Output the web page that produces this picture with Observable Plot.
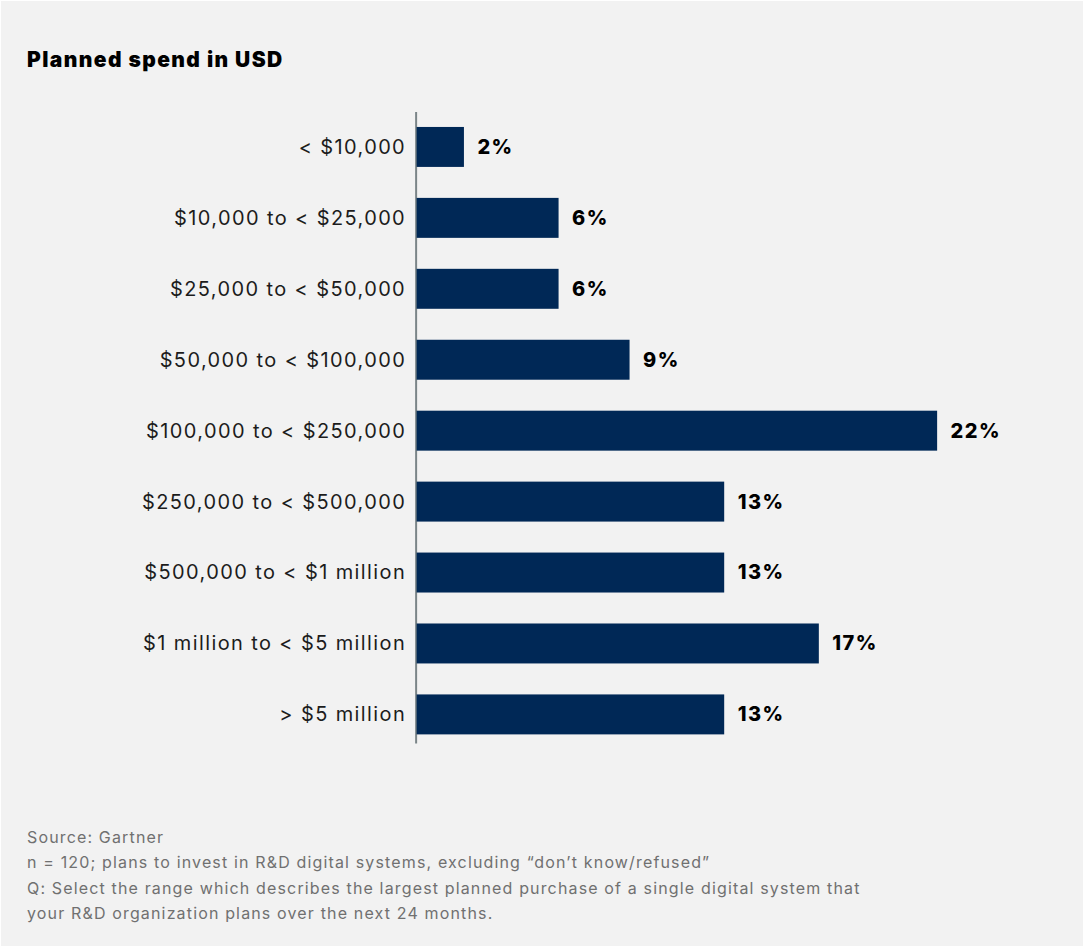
<!DOCTYPE html>
<html>
<head>
<meta charset="utf-8">
<script src="https://cdn.jsdelivr.net/npm/d3@7"></script>
<script src="https://cdn.jsdelivr.net/npm/@observablehq/plot@0.6"></script>
<style>
  html, body { margin: 0; padding: 0; background: #ffffff; }
  #card {
    position: relative;
    box-sizing: border-box;
    width: 1082px; height: 945px;
    margin: 1px;
    background: #f2f2f2;
    font-family: Inter, "Noto Sans", sans-serif;
    overflow: hidden;
  }
  #title {
    position: absolute; left: 26px; top: 46px;
    font-size: 21px; line-height: 26px; font-weight: 900; color: #000;
    letter-spacing: 1.4px;
  }
  #chart { position: absolute; left: -1px; top: 79px; }
  #chart svg text { letter-spacing: 1.4px; }
  #caption {
    position: absolute; left: 26px; top: 824px;
    font-size: 16px; line-height: 25.3px; color: #707070;
    letter-spacing: 1.15px;
  }
  #caption div { white-space: nowrap; }
</style>
</head>
<body>
<div id="card">
  <div id="title">Planned spend in USD</div>
  <div id="chart"></div>
  <div id="caption">
    <div>Source: Gartner</div>
    <div>n = 120; plans to invest in R&amp;D digital systems, excluding “don’t know/refused”</div>
    <div>Q: Select the range which describes the largest planned purchase of a single digital system that</div>
    <div>your R&amp;D organization plans over the next 24 months.</div>
  </div>
</div>
<script>
const categories = [
  "< $10,000",
  "$10,000 to < $25,000",
  "$25,000 to < $50,000",
  "$50,000 to < $100,000",
  "$100,000 to < $250,000",
  "$250,000 to < $500,000",
  "$500,000 to < $1 million",
  "$1 million to < $5 million",
  "> $5 million"
];
const values = [2, 6, 6, 9, 22, 13, 13, 17, 13];

const data = categories.map((c, i) => ({category: c, value: values[i]}));

const chart = Plot.plot({
  width: 1084,
  height: 700,
  marginLeft: 417,
  marginRight: 146,
  marginTop: 32,
  marginBottom: 36,
  style: {background: "transparent", fontFamily: "Inter, 'Noto Sans', sans-serif", color: "#1c1c1c", overflow: "visible"},
  x: {domain: [0, 22], axis: null},
  y: {domain: categories, paddingInner: 0.4375, paddingOuter: 0.163, align: 0.63, axis: null},
  marks: [
    Plot.ruleX([0], {stroke: "#7b8588", strokeWidth: 2, dx: -1}),
    Plot.barX(data, {x: "value", y: "category", fill: "#002856"}),
    Plot.text(data, {
      x: "value", y: "category",
      text: d => d.value + "%",
      textAnchor: "start", dx: 13,
      fontSize: 20, fontWeight: 800, fill: "#000"
    }),
    Plot.axisY({tickSize: 0, tickPadding: 11, fontSize: 20, label: null})
  ]
});
document.getElementById("chart").appendChild(chart);
</script>
</body>
</html>
